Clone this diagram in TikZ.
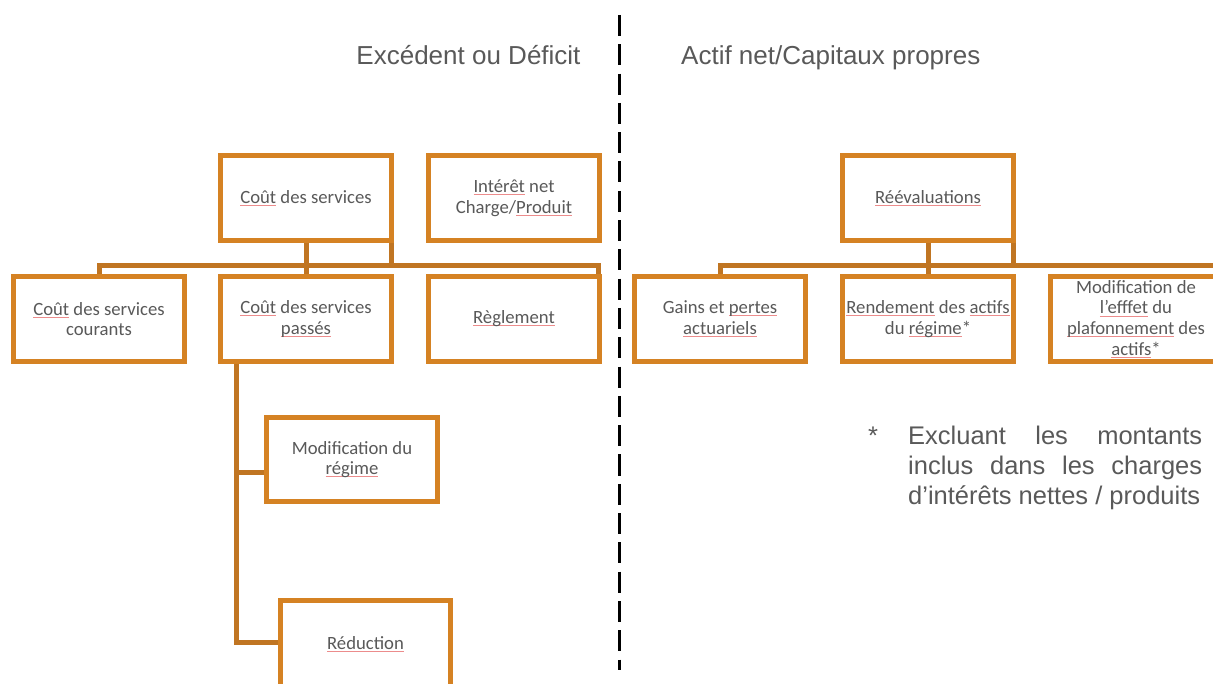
\documentclass[tikz,border=0pt]{standalone}
\usepackage{fontspec}
\setmainfont{Carlito}
\newfontfamily\arialf{Liberation Sans}
\usetikzlibrary{calc}
\definecolor{boxor}{RGB}{213,130,35}
\definecolor{connor}{RGB}{192,117,34}
\definecolor{txtgray}{RGB}{89,89,89}
\definecolor{squig}{RGB}{236,140,140}
\newcommand\sq[1]{\leavevmode\setbox0\hbox{#1}\rlap{\color{squig}\rule[-2.4pt]{\wd0}{0.8pt}}\box0\relax}
\begin{document}
\begin{tikzpicture}[x=1pt,y=-1pt,
  orgbox/.style={draw=boxor, line width=5pt, fill=white, minimum width=171pt,
    minimum height=85pt, inner sep=0pt, align=center, text=txtgray,
    font=\fontsize{18.7}{20.7}\selectfont},
  conn/.style={draw=connor, line width=5pt},
  hdr/.style={inner sep=0pt, text=txtgray, font=\arialf\fontsize{26}{31}\selectfont},
  fnote/.style={inner sep=0pt, text=txtgray, font=\arialf\fontsize{25.5}{30}\selectfont},
  divider/.style={draw=black, line width=2.7pt, dash pattern=on 21pt off 8.3pt}]
\useasboundingbox (0,0) rectangle (1213,684);

% headers
\node[hdr, anchor=base east] (h1) at (580.7,65) {Excédent ou Déficit};
\node[hdr, anchor=base west] (h2) at (681,65) {Actif net/Capitaux propres};

% divider
\coordinate (dtop) at (619.5,15);
\coordinate (dbot) at (619.5,670);
\draw[divider] (dtop) -- (dbot);

% left tree
\node[orgbox] (CS) at (306,198) {\sq{Coût} des services};
\node[orgbox] (IN) at (514,198) {\sq{Intérêt} net\\Charge/\sq{Produit}};
\node[orgbox] (CSC) at (99,319) {\sq{Coût} des services\\courants};
\node[orgbox] (CSP) at (306,319) {\sq{Coût} des services\\\sq{passés}};
\node[orgbox] (RG) at (514,319) {\sq{Règlement}};
\node[orgbox, minimum height=84pt] (MR) at (352,459.5) {Modification du\\\sq{régime}};
\node[orgbox, minimum height=87.8pt, minimum width=170pt] (RD) at (365.5,644.1) {\sq{Réduction}};

% right tree
\node[orgbox] (RV) at (928,198) {\sq{Réévaluations}};
\node[orgbox] (GP) at (720,319) {Gains et \sq{pertes}\\\sq{actuariels}};
\node[orgbox] (RA) at (928,319) {\sq{Rendement} des \sq{actifs}\\du \sq{régime}*};
\node[orgbox] (MP) at (1136,319) {Modification de\\\sq{l’efffet} du\\\sq{plafonnement} des\\\sq{actifs}*};

% left connectors
\coordinate (lb) at (0,265.5);
\draw[conn] (CSC.north) -- (CSC.north |- lb) -- ($(RG.north east |- lb)+(-4,0)$) -- ($(RG.north east)+(-4,0)$);
\draw[conn] (CS.south) -- (CSP.north);
\draw[conn] ($(CS.south east)+(-2.5,0)$) coordinate (cse) -- (cse |- lb);
\coordinate (t0) at ($(CSP.south west)+(18,0)$);
\draw[conn] (t0) |- ($(RD.west)+(0,-1.6)$);
\coordinate (b1) at ($(MR.west)+(0,13)$);
\draw[conn] (b1) -- (b1 -| t0);

% right connectors
\coordinate (rb) at (0,265.5);
\draw[conn] (GP.north) -- (GP.north |- rb) -- ($(MP.north east |- rb)+(-4,0)$) -- ($(MP.north east)+(-4,0)$);
\draw[conn] (RV.south) -- (RA.north);
\draw[conn] ($(RV.south east)+(-3,0)$) coordinate (rve) -- (rve |- rb);

% footnote
\node[fnote, anchor=base west] (ast) at (868,444) {*};
\node[fnote, anchor=north west, align=left] (fn) at (908,425.7)
  {\hbox to 294pt{Excluant\hfill les\hfill montants}\\\hbox to 294pt{inclus\hfill dans\hfill les\hfill charges}\\d’intérêts nettes / produits};
\end{tikzpicture}
\end{document}
